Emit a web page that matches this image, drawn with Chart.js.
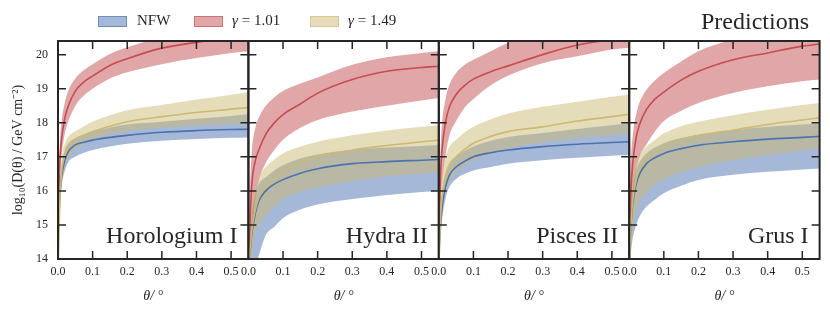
<!DOCTYPE html>
<html>
<head>
<meta charset="utf-8">
<script src="https://cdn.jsdelivr.net/npm/chart.js@4.4.1/dist/chart.umd.min.js"></script>
<style>
  body { margin: 0; background: #fff; }
  #wrap { position: relative; width: 830px; height: 315px; font-family: 'Liberation Serif', serif; color: #262626; }
  #wrap canvas { position: absolute; left: 0; top: 0; }
  .patch { position: absolute; top: 16px; width: 27px; height: 9px; }
  .lbl { position: absolute; top: 13px; font-size: 15px; line-height: 15px; white-space: nowrap; }
  .panelName { position: absolute; top: 223px; font-size: 24px; line-height: 24px; white-space: nowrap; text-align: right; }
  #title { position: absolute; left: 701px; top: 9px; font-size: 24px; line-height: 24px; }
</style>
</head>
<body>
<div id="wrap">
  <canvas id="c0" width="830" height="315"></canvas>
  <canvas id="c1" width="830" height="315"></canvas>
  <canvas id="c2" width="830" height="315"></canvas>
  <canvas id="c3" width="830" height="315"></canvas>

  <div class="patch" style="left:98px;background:rgba(76,114,176,0.5);border:1px solid rgba(76,114,176,0.6)"></div>
  <div class="lbl" style="left:137px">NFW</div>
  <div class="patch" style="left:194px;background:rgba(196,78,82,0.5);border:1px solid rgba(196,78,82,0.6)"></div>
  <div class="lbl" style="left:232px"><i>γ</i> = 1.01</div>
  <div class="patch" style="left:310px;background:rgba(204,185,116,0.5);border:1px solid rgba(204,185,116,0.6)"></div>
  <div class="lbl" style="left:348px"><i>γ</i> = 1.49</div>
  <div id="title">Predictions</div>
</div>

<script>
// angle from centre, degrees
const theta = [0.001, 0.005, 0.01, 0.02, 0.03, 0.05, 0.075, 0.1, 0.15, 0.2, 0.3, 0.4, 0.5, 0.55];
const xTicks = [0, 0.1, 0.2, 0.3, 0.4, 0.5];
const yTicks = [14, 15, 16, 17, 18, 19, 20];
const panelNames = ['Horologium I', 'Hydra II', 'Pisces II', 'Grus I'];

// Horologium I
const hor_nfw    = [14.8, 15.8, 16.4, 16.9, 17.15, 17.35, 17.43, 17.49, 17.57, 17.63, 17.72, 17.77, 17.8, 17.81];
const hor_nfw_hi = [15.0, 16.1, 16.7, 17.2, 17.4, 17.55, 17.66, 17.74, 17.86, 17.95, 18.03, 18.12, 18.2, 18.25];
const hor_nfw_lo = [14.6, 15.5, 16.1, 16.6, 16.85, 17.0, 17.12, 17.2, 17.3, 17.38, 17.47, 17.52, 17.56, 17.57];
const hor_g101    = [15.5, 16.8, 17.5, 18.15, 18.5, 18.93, 19.2, 19.37, 19.68, 19.88, 20.19, 20.36, 20.5, 20.56];
const hor_g101_hi = [15.9, 17.3, 18.0, 18.6, 18.95, 19.3, 19.55, 19.72, 20.02, 20.22, 20.5, 20.68, 20.82, 20.88];
const hor_g101_lo = [15.1, 16.3, 17.0, 17.7, 18.05, 18.5, 18.8, 19.0, 19.3, 19.48, 19.72, 19.9, 20.05, 20.1];
const hor_g149    = [14.0, 15.6, 16.5, 17.05, 17.3, 17.5, 17.63, 17.74, 17.9, 18.03, 18.18, 18.3, 18.4, 18.45];
const hor_g149_hi = [14.3, 16.0, 16.9, 17.4, 17.6, 17.75, 17.9, 18.03, 18.22, 18.37, 18.52, 18.68, 18.82, 18.9];
const hor_g149_lo = [13.8, 15.2, 16.1, 16.7, 16.95, 17.2, 17.38, 17.5, 17.65, 17.75, 17.85, 17.92, 17.97, 17.98];

// Hydra II
const hyd_nfw    = [14.0, 14.3, 14.75, 15.34, 15.7, 16.0, 16.2, 16.33, 16.52, 16.65, 16.8, 16.86, 16.9, 16.92];
const hyd_nfw_hi = [14.3, 14.8, 15.3, 15.9, 16.2, 16.4, 16.6, 16.75, 16.95, 17.07, 17.2, 17.27, 17.32, 17.35];
const hyd_nfw_lo = [13.6, 13.7, 13.75, 13.8, 14.1, 14.7, 14.95, 15.2, 15.45, 15.6, 15.76, 15.88, 15.97, 16.0];
const hyd_g101    = [14.2, 15.2, 16.2, 16.88, 17.2, 17.66, 18.0, 18.24, 18.55, 18.87, 19.27, 19.51, 19.62, 19.66];
const hyd_g101_hi = [14.8, 16.2, 17.17, 17.85, 18.15, 18.49, 18.75, 18.93, 19.15, 19.33, 19.7, 19.92, 20.05, 20.1];
const hyd_g101_lo = [13.6, 13.8, 14.5, 15.74, 16.3, 16.82, 17.2, 17.5, 17.85, 18.08, 18.33, 18.5, 18.65, 18.73];
const hyd_g149    = [13.9, 14.3, 14.85, 15.44, 15.8, 16.13, 16.38, 16.57, 16.82, 17.0, 17.2, 17.33, 17.44, 17.49];
const hyd_g149_hi = [14.2, 14.9, 15.5, 16.05, 16.4, 16.7, 16.92, 17.1, 17.3, 17.44, 17.63, 17.77, 17.88, 17.93];
const hyd_g149_lo = [13.6, 13.8, 14.2, 14.8, 15.0, 15.27, 15.55, 15.76, 15.98, 16.1, 16.3, 16.42, 16.5, 16.55];

// Pisces II
const pis_nfw    = [14.3, 15.0, 15.55, 16.13, 16.45, 16.7, 16.87, 17.0, 17.12, 17.2, 17.3, 17.37, 17.42, 17.44];
const pis_nfw_hi = [14.5, 15.4, 16.0, 16.55, 16.8, 17.0, 17.17, 17.3, 17.47, 17.58, 17.7, 17.82, 17.93, 17.98];
const pis_nfw_lo = [14.0, 14.7, 15.2, 15.8, 16.1, 16.35, 16.5, 16.6, 16.7, 16.8, 16.9, 16.97, 17.03, 17.05];
const pis_g101    = [15.0, 16.5, 17.27, 18.05, 18.45, 18.83, 19.1, 19.28, 19.5, 19.67, 20.0, 20.28, 20.44, 20.52];
const pis_g101_hi = [15.6, 17.2, 18.05, 18.73, 19.1, 19.46, 19.7, 19.85, 20.1, 20.35, 20.65, 20.9, 21.05, 21.1];
const pis_g101_lo = [14.2, 15.6, 16.29, 17.07, 17.6, 18.05, 18.45, 18.7, 19.1, 19.38, 19.75, 19.95, 20.15, 20.2];
const pis_g149    = [14.0, 15.2, 15.85, 16.42, 16.75, 17.0, 17.22, 17.4, 17.6, 17.74, 17.88, 18.05, 18.18, 18.25];
const pis_g149_hi = [14.3, 15.8, 16.4, 17.0, 17.28, 17.5, 17.72, 17.88, 18.1, 18.27, 18.47, 18.62, 18.76, 18.84];
const pis_g149_lo = [13.8, 14.7, 15.3, 15.9, 16.25, 16.55, 16.75, 16.9, 17.1, 17.25, 17.42, 17.55, 17.65, 17.69];

// Grus I
const gru_nfw    = [14.2, 15.0, 15.6, 16.2, 16.5, 16.8, 16.98, 17.1, 17.24, 17.34, 17.44, 17.52, 17.57, 17.6];
const gru_nfw_hi = [14.5, 15.4, 16.0, 16.6, 16.85, 17.1, 17.27, 17.4, 17.55, 17.65, 17.78, 17.88, 17.95, 17.98];
const gru_nfw_lo = [13.8, 14.2, 14.6, 15.0, 15.25, 15.54, 15.75, 15.93, 16.15, 16.32, 16.47, 16.56, 16.63, 16.66];
const gru_g101    = [14.8, 16.0, 16.78, 17.56, 17.95, 18.39, 18.7, 18.9, 19.25, 19.51, 19.85, 20.05, 20.25, 20.31];
const gru_g101_hi = [15.4, 16.9, 17.6, 18.24, 18.6, 18.97, 19.25, 19.46, 19.8, 20.1, 20.45, 20.7, 20.9, 20.98];
const gru_g101_lo = [14.0, 14.8, 15.6, 16.58, 17.0, 17.36, 17.75, 18.05, 18.35, 18.58, 18.87, 19.07, 19.22, 19.27];
const gru_g149    = [14.0, 15.0, 15.7, 16.32, 16.63, 16.9, 17.12, 17.3, 17.5, 17.63, 17.78, 17.95, 18.08, 18.15];
const gru_g149_hi = [14.3, 15.5, 16.2, 16.8, 17.05, 17.3, 17.5, 17.69, 17.9, 18.03, 18.22, 18.38, 18.52, 18.58];
const gru_g149_lo = [13.8, 14.4, 14.9, 15.4, 15.7, 15.95, 16.2, 16.35, 16.55, 16.7, 16.9, 17.05, 17.18, 17.25];

const panels = [
    { nfw: [hor_nfw, hor_nfw_hi, hor_nfw_lo], g101: [hor_g101, hor_g101_hi, hor_g101_lo], g149: [hor_g149, hor_g149_hi, hor_g149_lo] },
    { nfw: [hyd_nfw, hyd_nfw_hi, hyd_nfw_lo], g101: [hyd_g101, hyd_g101_hi, hyd_g101_lo], g149: [hyd_g149, hyd_g149_hi, hyd_g149_lo] },
    { nfw: [pis_nfw, pis_nfw_hi, pis_nfw_lo], g101: [pis_g101, pis_g101_hi, pis_g101_lo], g149: [pis_g149, pis_g149_hi, pis_g149_lo] },
    { nfw: [gru_nfw, gru_nfw_hi, gru_nfw_lo], g101: [gru_g101, gru_g101_hi, gru_g101_lo], g149: [gru_g149, gru_g149_hi, gru_g149_lo] }
];

const colors = {
    nfw:  { line: '#4c72b0', fill: 'rgba(76,114,176,0.5)' },
    g101: { line: '#c44e52', fill: 'rgba(196,78,82,0.5)' },
    g149: { line: '#ccb974', fill: 'rgba(204,185,116,0.5)' }
};

const panelLeft = [58, 248.4, 438.8, 629.2];
const panelW = 190.4;
const ink = '#262626';
const serif = 'Liberation Serif';

const toPts = arr => arr.map((v, i) => ({ x: theta[i], y: v }));

// inward ticks + frame, drawn on top of the bands
const framePlugin = {
    id: 'frame',
    afterDraw(chart) {
        const { ctx, chartArea: a, scales: { x, y } } = chart;
        ctx.save();
        ctx.strokeStyle = ink;
        ctx.lineWidth = 1.5;
        ctx.beginPath();
        xTicks.slice(1).forEach(v => {
            const px = x.getPixelForValue(v);
            ctx.moveTo(px, a.bottom); ctx.lineTo(px, a.bottom - 8);
            ctx.moveTo(px, a.top); ctx.lineTo(px, a.top + 8);
        });
        yTicks.slice(1).forEach(v => {
            const py = y.getPixelForValue(v);
            ctx.moveTo(a.left, py); ctx.lineTo(a.left + 8, py);
            ctx.moveTo(a.right, py); ctx.lineTo(a.right - 8, py);
        });
        ctx.stroke();
        ctx.lineWidth = 2;
        ctx.strokeRect(a.left, a.top, a.right - a.left, a.bottom - a.top);
        ctx.restore();
    }
};

function bandSets(key, trio) {
    const [mid, hi, lo] = trio;
    const c = colors[key];
    return [
        { data: toPts(mid), borderColor: c.line, borderWidth: 1.6, fill: false },
        { data: toPts(hi), borderWidth: 0, borderColor: 'rgba(0,0,0,0)', backgroundColor: c.fill, fill: '+1' },
        { data: toPts(lo), borderWidth: 0, borderColor: 'rgba(0,0,0,0)', fill: false }
    ];
}

panels.forEach((p, i) => {
    // first dataset is drawn last, so yellow sits on top of red and blue
    const datasets = [
        ...bandSets('g149', p.g149),
        ...bandSets('g101', p.g101),
        ...bandSets('nfw', p.nfw)
    ];
    const first = i === 0;
    const left = panelLeft[i];

    new Chart(document.getElementById('c' + i), {
        type: 'line',
        data: { datasets },
        options: {
            responsive: false,
            animation: false,
            events: [],
            layout: { padding: { left: first ? 0 : left, right: 830 - left - panelW, top: 41, bottom: 0 } },
            elements: {
                point: { radius: 0 },
                line: { cubicInterpolationMode: 'monotone' }
            },
            plugins: {
                legend: { display: false },
                tooltip: { enabled: false },
                // all bands first, then the centre lines over them
                filler: { drawTime: 'beforeDatasetsDraw' }
            },
            scales: {
                x: {
                    type: 'linear',
                    min: 0,
                    max: 0.55,
                    afterBuildTicks: s => { s.ticks = xTicks.map(v => ({ value: v })); },
                    afterFit: s => { s.height = 56; },
                    grid: { display: false, drawTicks: false },
                    border: { display: false },
                    ticks: {
                        autoSkip: false,
                        maxRotation: 0,
                        padding: 6,
                        color: ink,
                        font: { family: serif, size: 12 },
                        callback: v => v.toFixed(1)
                    },
                    title: {
                        display: true,
                        text: 'θ/ °',
                        color: ink,
                        padding: { top: 0, bottom: 10 },
                        font: { family: serif, size: 14, style: 'italic' }
                    }
                },
                y: {
                    display: first,
                    min: 14,
                    max: 20.4,
                    afterBuildTicks: s => { s.ticks = yTicks.map(v => ({ value: v })); },
                    afterFit: s => { if (first) s.width = 58; },
                    grid: { display: false, drawTicks: false },
                    border: { display: false },
                    ticks: {
                        padding: 10,
                        color: ink,
                        font: { family: serif, size: 12 },
                        callback: v => String(v)
                    },
                    title: {
                        display: true,
                        text: 'log₁₀(D(θ) / GeV cm⁻²)',
                        color: ink,
                        padding: { top: 10, bottom: 0 },
                        font: { family: serif, size: 14 }
                    }
                }
            }
        },
        plugins: [framePlugin]
    });

    const name = document.createElement('div');
    name.className = 'panelName';
    name.style.right = (830 - (left + panelW) + 11) + 'px';
    name.textContent = panelNames[i];
    document.getElementById('wrap').appendChild(name);
});
</script>
</body>
</html>
